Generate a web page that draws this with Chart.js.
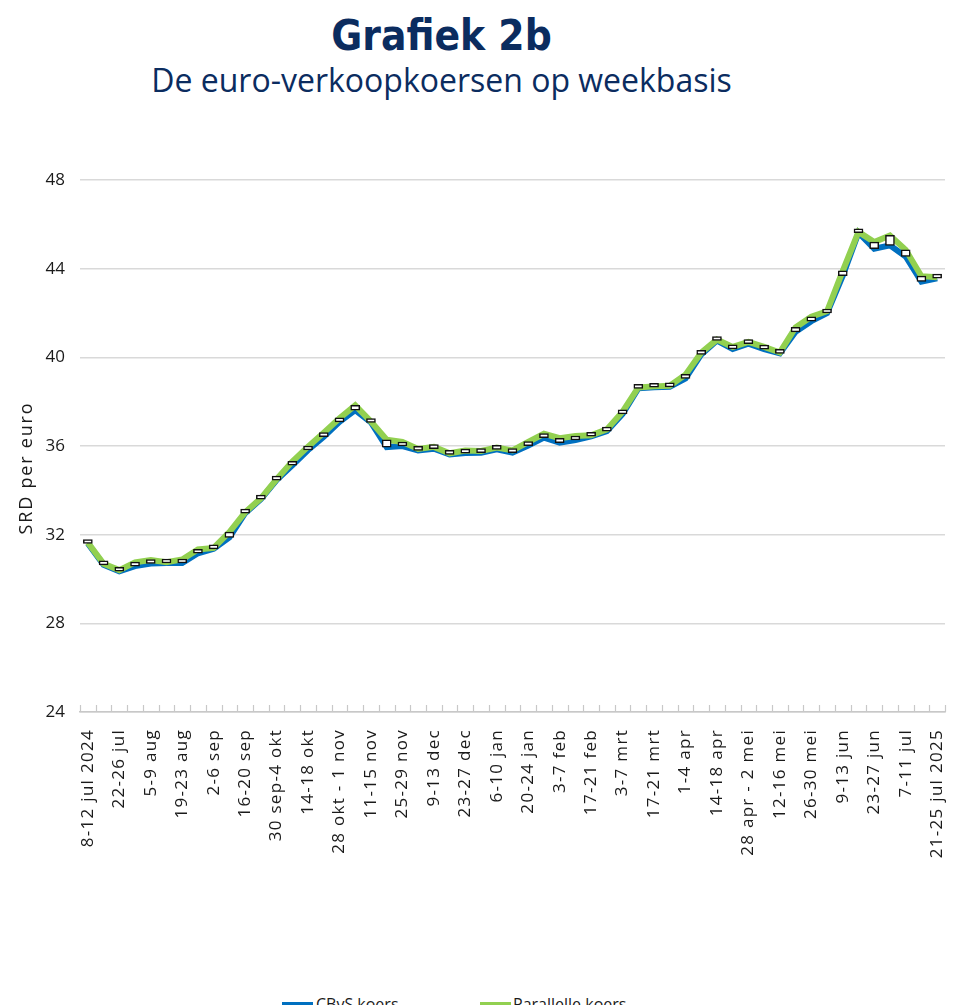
<!DOCTYPE html>
<html>
<head>
<meta charset="utf-8">
<script src="https://cdn.jsdelivr.net/npm/chart.js@4.4.1/dist/chart.umd.min.js"></script>
<style>
  html, body { margin: 0; padding: 0; background: #fff; overflow: hidden; }
  body { width: 967px; height: 1005px; position: relative; }
  .title { position: absolute; left: 0; width: 883px; text-align: center; color: #0b2c5f; line-height: 1; }
  #t1 { top: 15px; font-family: "DejaVu Sans Condensed", "DejaVu Sans"; font-stretch: condensed; font-weight: bold; font-size: 42px; }
  #t2 { top: 64px; font-family: "Open Sans"; font-size: 32px; }
  #wrap { position: absolute; left: 0; top: 150px; }
  .leg { position: absolute; top: 996px; font-family: "Open Sans"; font-size: 16px; line-height: 1; color: #1a1a1a; }
  .sw { position: absolute; top: 1002px; height: 4px; width: 31px; }
</style>
</head>
<body>
<div class="title" id="t1">Grafiek 2b</div>
<div class="title" id="t2">De euro-verkoopkoersen op weekbasis</div>
<div id="wrap"><canvas id="myChart" width="967" height="812"></canvas></div>
<div class="sw" style="left:282px;background:#0070c0"></div>
<div class="leg" style="left:316px">CBvS koers</div>
<div class="sw" style="left:480px;background:#92d050"></div>
<div class="leg" style="left:513px">Parallelle koers</div>
<script>
// weekly periods, jul 2024 - jul 2025
const weeks = [
  "8-12 jul 2024", "15-19 jul", "22-26 jul", "29 jul-2 aug", "5-9 aug",
  "12-16 aug", "19-23 aug", "26-30 aug", "2-6 sep", "9-13 sep",
  "16-20 sep", "23-27 sep", "30 sep-4 okt", "7-11 okt", "14-18 okt",
  "21-25 okt", "28 okt - 1 nov", "4-8 nov", "11-15 nov", "18-22 nov",
  "25-29 nov", "2-6 dec", "9-13 dec", "16-20 dec", "23-27 dec",
  "30 dec-3 jan", "6-10 jan", "13-17 jan", "20-24 jan", "27-31 jan",
  "3-7 feb", "10-14 feb", "17-21 feb", "24-28 feb", "3-7 mrt",
  "10-14 mrt", "17-21 mrt", "24-28 mrt", "1-4 apr", "7-11 apr",
  "14-18 apr", "21-25 apr", "28 apr - 2 mei", "5-9 mei", "12-16 mei",
  "19-23 mei", "26-30 mei", "2-6 jun", "9-13 jun", "16-20 jun",
  "23-27 jun", "30 jun-4 jul", "7-11 jul", "14-18 jul", "21-25 jul 2025"
];

// SRD per euro
const cbvs = [
  31.60, 30.64, 30.35, 30.58, 30.70, 30.72, 30.72, 31.16, 31.36, 31.88,
  32.97, 33.60, 34.46, 35.13, 35.82, 36.42, 37.09, 37.62, 37.06, 35.95,
  36.00, 35.80, 35.88, 35.62, 35.68, 35.70, 35.85, 35.70, 36.02, 36.38,
  36.15, 36.27, 36.44, 36.67, 37.45, 38.60, 38.65, 38.67, 39.05, 40.13,
  40.76, 40.38, 40.62, 40.37, 40.18, 41.15, 41.63, 42.00, 43.68, 45.62,
  44.90, 45.05, 44.55, 43.42, 43.57
];
const parallel = [
  31.64, 30.69, 30.40, 30.75, 30.86, 30.76, 30.88, 31.33, 31.40, 32.12,
  33.01, 33.64, 34.50, 35.30, 35.97, 36.60, 37.25, 37.83, 37.10, 36.28,
  36.18, 35.87, 35.96, 35.67, 35.80, 35.78, 35.93, 35.80, 36.18, 36.55,
  36.35, 36.45, 36.48, 36.75, 37.55, 38.64, 38.69, 38.72, 39.22, 40.21,
  40.80, 40.47, 40.70, 40.47, 40.22, 41.35, 41.83, 42.08, 43.90, 45.66,
  45.20, 45.50, 44.85, 43.66, 43.61
];

const yTicks = { min: 24, max: 48, step: 4 };

// inward tick marks, rotated week labels and the y title
const axisDecor = {
  id: "axisDecor",
  afterDraw(chart) {
    const ctx = chart.ctx;
    const xs = chart.scales.x;
    const area = chart.chartArea;
    const n = weeks.length;
    ctx.save();
    ctx.strokeStyle = "#c8c8c8";
    ctx.lineWidth = 1.2;
    ctx.beginPath();
    for (let i = 0; i <= n; i++) {
      const x = Math.round(xs.left + (i * (xs.right - xs.left)) / n) + 0.5;
      ctx.moveTo(x, area.bottom - 7);
      ctx.lineTo(x, area.bottom);
    }
    ctx.stroke();

    ctx.fillStyle = "#1a1a1a";
    ctx.font = '17px "Open Sans"';
    ctx.letterSpacing = "1.3px";
    ctx.textAlign = "right";
    ctx.textBaseline = "middle";
    weeks.forEach((w, i) => {
      if (i % 2 !== 0) return;
      ctx.save();
      ctx.translate(xs.getPixelForValue(i), area.bottom + 17);
      ctx.rotate(-Math.PI / 2);
      ctx.fillText(w, 0, 0);
      ctx.restore();
    });

    ctx.font = '18px "Open Sans"';
    ctx.letterSpacing = "1.8px";
    ctx.textAlign = "center";
    ctx.translate(27, (area.top + area.bottom) / 2 + 22);
    ctx.rotate(-Math.PI / 2);
    ctx.fillText("SRD per euro", 0, 0);
    ctx.restore();
  },
};

new Chart(document.getElementById("myChart"), {
  data: {
    labels: weeks,
    datasets: [
      {
        type: "bar",
        label: "verschil",
        data: cbvs.map((v, i) => [v, parallel[i]]),
        backgroundColor: "#ffffff",
        borderColor: "#111111",
        borderWidth: 1.5,
        borderSkipped: false,
        barThickness: 9,
        minBarLength: 4,
        order: 0,
      },
      {
        type: "line",
        label: "Parallelle koers",
        data: parallel,
        borderColor: "#92d050",
        borderWidth: 6,
        pointRadius: 0,
        tension: 0,
        order: 1,
      },
      {
        type: "line",
        label: "CBvS koers",
        data: cbvs,
        borderColor: "#0070c0",
        borderWidth: 6,
        pointRadius: 0,
        tension: 0,
        order: 2,
      },
    ],
  },
  options: {
    responsive: false,
    animation: false,
    devicePixelRatio: 1,
    layout: { padding: { top: 30, right: 22, left: 0, bottom: 0 } },
    plugins: { legend: { display: false }, tooltip: { enabled: false } },
    scales: {
      x: {
        offset: true,
        grid: { display: false },
        border: { display: true, color: "#c8c8c8", width: 1.5 },
        ticks: { display: false },
        afterFit: (s) => { s.height = 250; },
      },
      y: {
        min: yTicks.min,
        max: yTicks.max,
        grid: { color: "#d9d9d9", lineWidth: 1.5, drawTicks: false },
        border: { display: false },
        ticks: {
          stepSize: yTicks.step,
          padding: 15,
          color: "#1a1a1a",
          font: { family: "Open Sans", size: 17 },
        },
        afterFit: (s) => { s.width = 80; },
      },
    },
  },
  plugins: [axisDecor],
});
</script>
</body>
</html>
